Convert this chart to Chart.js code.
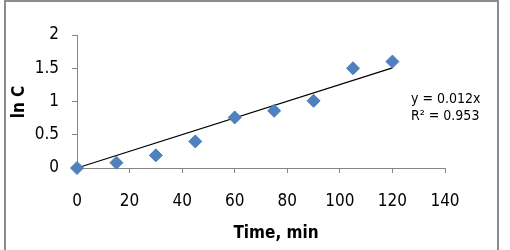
<!DOCTYPE html>
<html>
<head>
<meta charset="utf-8">
<script src="https://cdn.jsdelivr.net/npm/chart.js@4"></script>
<style>
html,body{margin:0;padding:0;background:#fff;}
#wrap{position:relative;width:510px;height:250px;}
</style>
</head>
<body>
<div id="wrap"><canvas id="c" width="510" height="250"></canvas></div>
<script>
const timeMin = [0, 15, 30, 45, 60, 75, 90, 105, 120];
const lnC = [0, 0.08, 0.19, 0.40, 0.76, 0.86, 1.01, 1.50, 1.60];
const trendX = [0, 120];
const trendY = [0, 1.505];
const xTicks = [0, 20, 40, 60, 80, 100, 120, 140];
const yTicks = [0, 0.5, 1, 1.5, 2];
const equationLines = ['y = 0.012x', 'R\u00B2 = 0.953'];
const xTitle = 'Time, min';
const yTitle = 'ln C';

const FONT = '"DejaVu Sans Condensed", "DejaVu Sans", sans-serif';
const AXIS_GRAY = '#868686';

const decor = {
  id: 'decor',
  beforeDraw(chart) {
    const ctx = chart.ctx;
    ctx.save();
    ctx.strokeStyle = '#8c8c8c';
    ctx.lineWidth = 2;
    ctx.beginPath();
    ctx.moveTo(5, 252);
    ctx.lineTo(5, 1);
    ctx.lineTo(498, 1);
    ctx.lineTo(498, 252);
    ctx.stroke();
    ctx.restore();
  },
  afterDraw(chart) {
    const ctx = chart.ctx;
    ctx.save();
    ctx.fillStyle = '#000';
    ctx.font = '14px ' + FONT;
    ctx.textAlign = 'left';
    ctx.textBaseline = 'alphabetic';
    ctx.fillText(equationLines[0], 411, 103);
    ctx.fillText(equationLines[1], 411, 120);
    ctx.font = 'bold 17px ' + FONT;
    ctx.textAlign = 'center';
    ctx.textBaseline = 'middle';
    ctx.fillText(xTitle, 276, 234);
    ctx.translate(20, 102);
    ctx.rotate(-Math.PI / 2);
    ctx.fillText(yTitle, 0, 0);
    ctx.restore();
  }
};

new Chart(document.getElementById('c'), {
  type: 'scatter',
  data: {
    datasets: [
      {
        label: 'trend',
        data: trendX.map((x, i) => ({x, y: trendY[i]})),
        showLine: true,
        borderColor: '#000',
        borderWidth: 1.2,
        pointRadius: 0,
        fill: false,
        clip: false,
        order: 2
      },
      {
        label: 'ln C',
        data: timeMin.map((x, i) => ({x, y: lnC[i]})),
        pointStyle: 'rectRot',
        pointRadius: 6.5,
        backgroundColor: '#4F81BD',
        borderColor: '#4A7DBA',
        borderWidth: 1,
        clip: false,
        order: 1
      }
    ]
  },
  options: {
    responsive: false,
    animation: false,
    events: [],
    layout: {padding: {left: 0, top: 35, right: 65, bottom: 0}},
    plugins: {legend: {display: false}, tooltip: {enabled: false}},
    scales: {
      x: {
        type: 'linear',
        min: 0, max: 140,
        afterBuildTicks: s => { s.ticks = xTicks.map(v => ({value: v})); },
        afterFit: s => { s.height = 82; },
        grid: {drawOnChartArea: false, drawTicks: true, tickLength: 5, tickColor: AXIS_GRAY},
        border: {display: true, color: AXIS_GRAY, width: 1},
        ticks: {color: '#000', font: {family: FONT, size: 17}, padding: 18, maxRotation: 0, autoSkip: false,
                callback: v => String(v)}
      },
      y: {
        type: 'linear',
        min: 0, max: 2,
        afterBuildTicks: s => { s.ticks = yTicks.map(v => ({value: v})); },
        afterFit: s => { s.width = 77; },
        grid: {drawOnChartArea: false, drawTicks: true, tickLength: 5, tickColor: AXIS_GRAY},
        border: {display: true, color: AXIS_GRAY, width: 1},
        ticks: {color: '#000', font: {family: FONT, size: 17}, padding: 13, autoSkip: false,
                callback: v => String(v)}
      }
    }
  },
  plugins: [decor]
});
</script>
</body>
</html>
